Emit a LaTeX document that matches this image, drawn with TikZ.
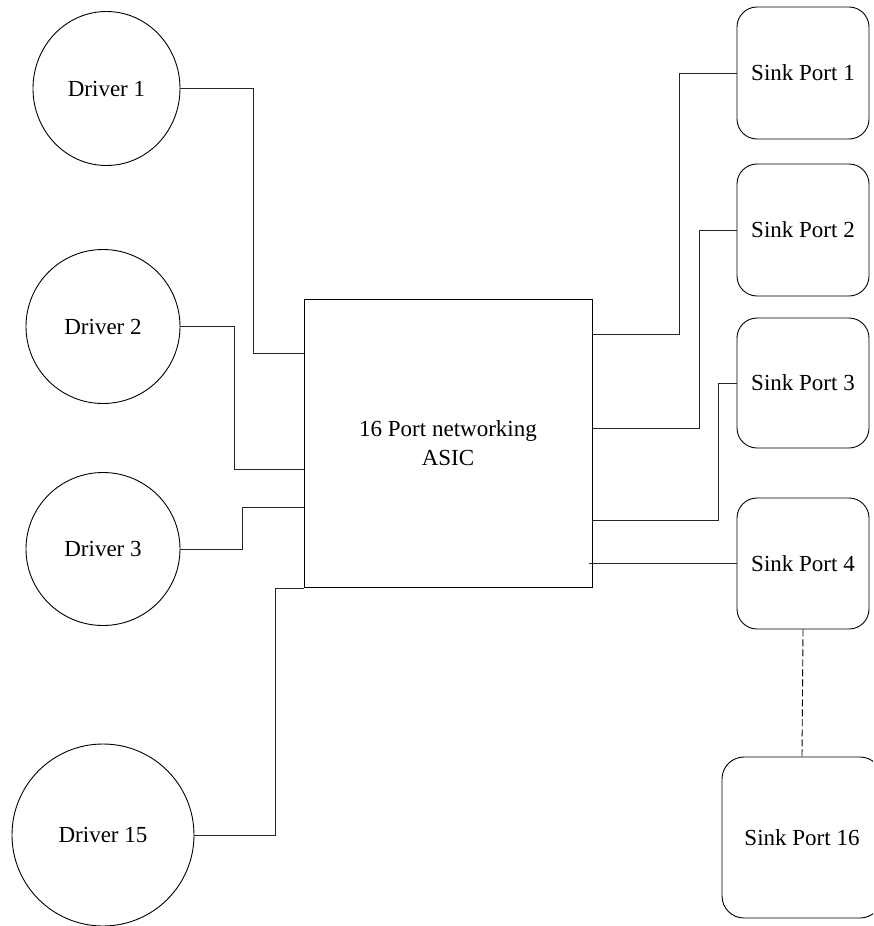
\documentclass[tikz,border=0pt]{standalone}
\usepackage{fontspec}
\setmainfont{Liberation Serif}
\usetikzlibrary{shapes.geometric}
\tikzset{
  driver/.style={draw, ellipse, line width=0.9pt, inner sep=0pt, font=\fontsize{23}{29}\selectfont},
  sink/.style={draw, rectangle, rounded corners=20pt, line width=0.9pt, inner sep=0pt, font=\fontsize{23}{29}\selectfont},
  chip/.style={draw, rectangle, line width=0.9pt, inner sep=0pt, align=center, font=\fontsize{23}{29}\selectfont},
  wire/.style={line width=1pt, black!85},
  dots/.style={line width=0.9pt, dash pattern=on 7pt off 3pt}
}
\begin{document}
\begin{tikzpicture}[x=1pt,y=-1pt]
\useasboundingbox (0,0) rectangle (873,926);
\clip (0,0) rectangle (873,926);
% drivers
\node[driver, minimum width=147pt, minimum height=154pt] (d1) at (106.5,88.5) {Driver 1};
\node[driver, minimum width=154pt, minimum height=154pt] (d2) at (103,326.5) {Driver 2};
\node[driver, minimum width=154pt, minimum height=153pt] (d3) at (103,549) {Driver 3};
\node[driver, minimum width=182pt, minimum height=182pt] (d15) at (103,835) {Driver 15};
% chip
\node[chip, minimum width=288pt, minimum height=288pt] (asic) at (448,443) {16 Port networking\\ASIC};
% sinks
\node[sink, minimum width=132pt, minimum height=132pt] (s1) at (803,73) {Sink Port 1};
\node[sink, minimum width=132pt, minimum height=132pt] (s2) at (803,230) {Sink Port 2};
\node[sink, minimum width=132pt, minimum height=130pt] (s3) at (803,383) {Sink Port 3};
\node[sink, minimum width=132pt, minimum height=131pt] (s4) at (803,563.5) {Sink Port 4};
\node[sink, rounded corners=22pt, minimum width=160pt, minimum height=161pt] (s16) at (802,837.5) {Sink Port 16};
% driver connectors
\draw[wire] (d1.east) -| (253,353) -- (asic.west |- 0,353);
\draw[wire] (d2.east) -| (234,469) -- (asic.west |- 0,469);
\draw[wire] (d3.east) -| (242,507) -- (asic.west |- 0,507);
\draw[wire] (d15.east) -| (275,588) -- (asic.west |- 0,588);
% sink connectors
\draw[wire] (asic.east |- 0,334) -| (s1.west -| 679,0) -- (s1.west);
\draw[wire] (asic.east |- 0,428) -| (s2.west -| 699,0) -- (s2.west);
\draw[wire] (asic.east |- 0,520) -| (s3.west -| 718,0) -- (s3.west);
\coordinate (a4) at (589,563.5);
\draw[wire] (a4) -- (s4.west);
\draw[dots] (s4.south) -- (s16.north);
\end{tikzpicture}
\end{document}
